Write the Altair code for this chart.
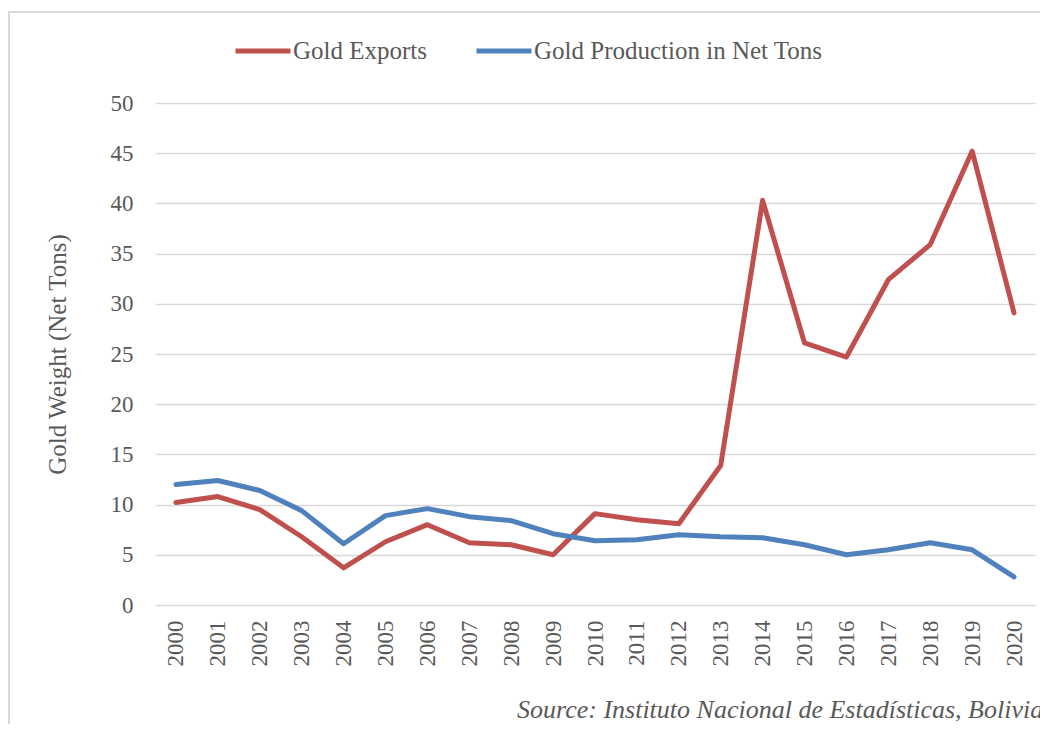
import altair as alt
import pandas as pd

years = ["2000", "2001", "2002", "2003", "2004", "2005", "2006", "2007", "2008", "2009",
         "2010", "2011", "2012", "2013", "2014", "2015", "2016", "2017", "2018", "2019", "2020"]
gold_exports = [10.2, 10.8, 9.5, 6.8, 3.7, 6.3, 8.0, 6.2, 6.0, 5.0,
                9.1, 8.5, 8.1, 13.9, 40.3, 26.1, 24.7, 32.4, 35.9, 45.2, 29.1]
gold_production = [12.0, 12.4, 11.4, 9.4, 6.1, 8.9, 9.6, 8.8, 8.4, 7.1,
                   6.4, 6.5, 7.0, 6.8, 6.7, 6.0, 5.0, 5.5, 6.2, 5.5, 2.8]
series_names = ["Gold Exports", "Gold Production in Net Tons"]
series_colors = ["#C0504D", "#4F81BD"]
y_ticks = [0, 5, 10, 15, 20, 25, 30, 35, 40, 45, 50]
y_title = "Gold Weight (Net Tons)"
source_text = "Source: Instituto Nacional de Estadísticas, Bolivia"

FONT = "Liberation Serif"
TEXT = "#595959"

rows = []
for name, vals in zip(series_names, [gold_exports, gold_production]):
    for yr, v in zip(years, vals):
        rows.append({"year": yr, "value": v, "series": name})
df = pd.DataFrame(rows)

lines = alt.Chart(df).mark_line(strokeWidth=5, strokeCap="round", strokeJoin="round").encode(
    x=alt.X("year:O", sort=years,
            scale=alt.Scale(type="point", padding=0.5),
            axis=alt.Axis(title=None, labelAngle=270, labelFontSize=23, labelPadding=15,
                          ticks=False, domain=False, grid=False,
                          labelFont=FONT, labelColor=TEXT)),
    y=alt.Y("value:Q", scale=alt.Scale(domain=[0, 50], nice=False),
            axis=alt.Axis(values=y_ticks, title=y_title, labelFontSize=23, labelPadding=22,
                          ticks=False, domain=False, grid=True, gridColor="#d9d9d9", gridWidth=1.5,
                          labelFont=FONT, labelColor=TEXT, titleFont=FONT, titleColor=TEXT,
                          titleFontSize=25, titleFontWeight="normal", titlePadding=40)),
    color=alt.Color("series:N",
                    scale=alt.Scale(domain=series_names, range=series_colors),
                    legend=alt.Legend(title=None, orient="none", legendX=78, legendY=-82,
                                      direction="horizontal", symbolType="stroke",
                                      symbolSize=3025, symbolStrokeWidth=5,
                                      labelFontSize=25, labelFont=FONT, labelColor=TEXT,
                                      labelOffset=0, columnPadding=38, labelLimit=600)),
)

frame = alt.Chart(pd.DataFrame({"a": [0]})).mark_rect(
    fillOpacity=0, stroke="#d9d9d9", strokeWidth=2
).encode(x=alt.value(-146), x2=alt.value(900), y=alt.value(-91), y2=alt.value(700))

source = alt.Chart(pd.DataFrame({"t": [source_text]})).mark_text(
    align="left", baseline="alphabetic", fontStyle="italic", fontSize=26,
    font=FONT, color=TEXT
).encode(x=alt.value(362), y=alt.value(615), text="t:N")

chart = alt.layer(frame, lines, source).properties(
    width=880, height=502,
    padding={"left": 147, "top": 95, "right": 5, "bottom": 119},
    autosize=alt.AutoSizeParams(type="none"),
).configure_view(stroke=None)

chart.save("out.html", embed_options={"renderer": "svg", "actions": False})
